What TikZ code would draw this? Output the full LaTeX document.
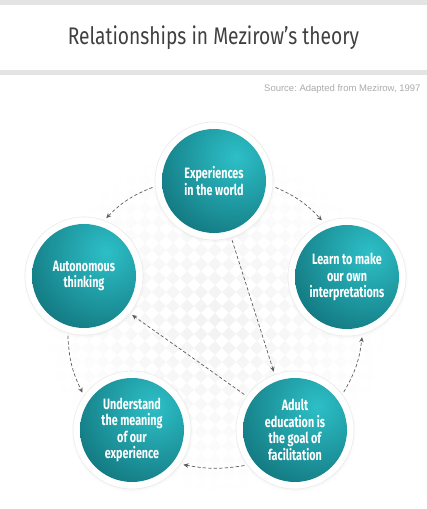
\documentclass[tikz,border=0pt]{standalone}
\usepackage{fontspec}
\setmainfont{Liberation Sans}
\newfontfamily\bubblefont[FakeStretch=0.72]{Fira Sans}
\newfontfamily\headfont[FakeStretch=0.8]{Fira Sans}
\usetikzlibrary{arrows.meta,fadings,shadows}
\definecolor{tealL}{HTML}{2DBFC7}
\definecolor{tealD}{HTML}{12767E}
\definecolor{barG}{HTML}{E4E4E4}
\definecolor{arrG}{HTML}{5E5E5E}
\tikzfading[name=softedge,inner color=transparent!0,outer color=transparent!100]
\frenchspacing
\begin{document}
\begin{tikzpicture}[x=1pt,y=1pt,line cap=round,line join=round,
  bubble/.style={circle,minimum size=118pt,inner sep=0pt,outer sep=3pt,
    fill=white,draw=black!8,line width=.6pt,
    circular drop shadow={shadow xshift=0pt,shadow yshift=-1pt,shadow scale=1.035,opacity=.16},
    path picture={\clip (path picture bounding box.center) circle (52);
      \shade[inner color=tealL,outer color=tealD]
        ([shift={(22,24)}]path picture bounding box.center) circle (90);},
    text=white,align=center,font=\bubblefont\bfseries\fontsize{15}{16.5}\selectfont},
  flow/.style={arrG,line width=.7pt,dash pattern=on 3pt off 2.5pt,
    -{Stealth[length=5pt,width=4.5pt]}}]
  \useasboundingbox (0,0) rectangle (427,509);
  \fill[barG] (0,504) rectangle (427,509);
  \fill[barG] (0,434) rectangle (427,439);
  \node[text=black!75,font=\headfont\fontsize{24}{26}\selectfont] (title) at (213.5,471)
    {Relationships in Mezirow’s theory};
  \node[anchor=east,text=black!33,font=\fontsize{9.5}{11}\selectfont] (src) at (424,420)
    {Source: Adapted from Mezirow, 1997};
  \fill[black!5,path fading=softedge]
    \foreach \i in {-12,...,12}{\foreach \j in {-12,...,12}{
      (215+14*\i,189+14*\j) ++(7,0) -- ++(-7,7) -- ++(-7,-7) -- ++(7,-7) -- cycle}};
  \node[bubble] (exp) at (214,328) {Experiences\\in the world};
  \node[bubble] (auto) at (84,233) {Autonomous\\thinking};
  \node[bubble] (learn) at (347,232) {Learn to make\\our own\\interpretations};
  \node[bubble] (under) at (132,79) {Understand\\the meaning\\of our\\experience};
  \node[bubble] (adult) at (295,79) {Adult\\education is\\the goal of\\facilitation};
  \draw[flow] (exp.-6) to[bend left=12] (learn.114);
  \draw[flow] (exp.186) to[bend right=12] (auto.69);
  \draw[flow] (exp.-73) -- (adult.110);
  \draw[flow] (adult.145) -- (auto.-39);
  \draw[flow] (adult.215) to[bend left=10] (under.-34);
  \draw[flow] (adult.38) to[bend right=12] (learn.-76);
  \draw[flow] (auto.-105) to[bend right=12] (under.143);
\end{tikzpicture}
\end{document}
